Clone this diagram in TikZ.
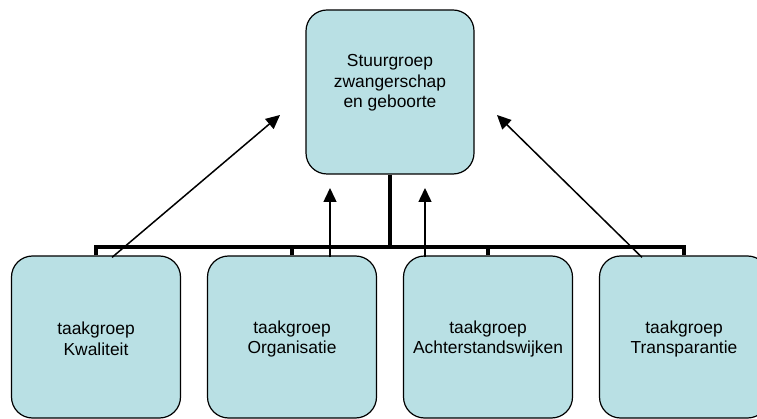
\documentclass[tikz,border=0pt]{standalone}
\usepackage{fontspec}
\setmainfont{Liberation Sans}
\usetikzlibrary{arrows.meta}
\definecolor{groepblauw}{RGB}{185,224,228}
\begin{document}
\begin{tikzpicture}[x=1pt,y=-1pt,
  groep/.style={draw,line width=1.2pt,fill=groepblauw,rounded corners=21pt,
    minimum width=169pt,minimum height=162pt,inner sep=0pt},
  tekst/.style={align=center,font=\fontsize{17.4}{20.5}\selectfont,inner sep=0pt},
  balk/.style={line width=3.2pt},
  pijl/.style={line width=1.5pt,-{Triangle[length=14pt,width=13pt]}}]
  \clip (0,0) rectangle (757,419);
  \node[groep,minimum width=168pt,minimum height=164pt] (stuur) at (390,92) {};
  \node[tekst] (stuurtekst) at (390,83) {Stuurgroep\\zwangerschap\\en geboorte};
  \node[groep] (kwal) at (96,337) {};
  \node[groep] (org) at (292,337) {};
  \node[groep] (achter) at (488,337) {};
  \node[groep] (trans) at (684,337) {};
  \node[tekst] (kwaltekst) at (96,339) {taakgroep\\Kwaliteit};
  \node[tekst] (orgtekst) at (292,339) {taakgroep\\Organisatie};
  \node[tekst] (achtertekst) at (488,339) {taakgroep\\Achterstandswijken};
  \node[tekst] (transtekst) at (684,339) {taakgroep\\Transparantie};
  % verbindingen
  \coordinate (knoop) at (390,247);
  \draw[balk] (kwal.north) |- (knoop) -| (trans.north);
  \draw[balk] (stuur.south) -- (knoop);
  \draw[balk] (org.north) -- (org.north |- knoop);
  \draw[balk] (achter.north) -- (achter.north |- knoop);
  % pijlen naar de stuurgroep
  \coordinate (tipa) at (280,115);
  \coordinate (tipb) at (330,188);
  \coordinate (tipc) at (425,188);
  \coordinate (tipd) at (497,115);
  \draw[pijl] ([xshift=16pt,yshift=-2pt]kwal.north) -- (tipa);
  \draw[pijl] ([xshift=38pt,yshift=-2pt]org.north) -- (tipb);
  \draw[pijl] ([xshift=-63pt,yshift=-2pt]achter.north) -- (tipc);
  \draw[pijl] ([xshift=-42pt,yshift=-2pt]trans.north) -- (tipd);
\end{tikzpicture}
\end{document}
